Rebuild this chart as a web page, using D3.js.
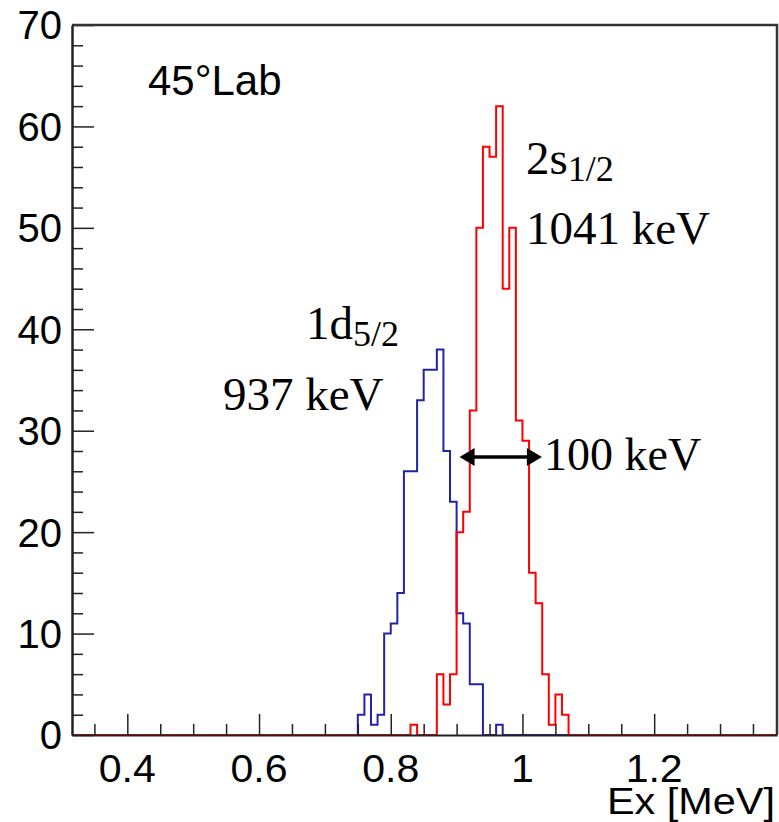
<!DOCTYPE html>
<html>
<head>
<meta charset="utf-8">
<script src="https://cdn.jsdelivr.net/npm/d3@7"></script>
<style>
  body { margin: 0; background: #fff; }
  svg { display: block; }
</style>
</head>
<body>
<div id="chart"></div>
<script>
// histogram data, bins of 0.01 MeV
const binWidth = 0.01;
const blueStart = 0.75;
const blueCounts = [2, 4, 1, 2, 10, 11, 14, 26, 26, 33, 36, 36, 38, 28, 23, 12, 11, 5, 5, 0, 0, 1];
const redStart = 0.83;
const redCounts = [1, 0, 0, 0, 6, 3, 6, 20, 22, 32, 50, 58, 57, 62, 44, 50, 31, 29, 16, 13, 6, 1, 4, 2];

const xTicksMajor = [0.4, 0.6, 0.8, 1.0, 1.2];
const xTickLabels = ['0.4', '0.6', '0.8', '1', '1.2'];
const yTicksMajor = [0, 10, 20, 30, 40, 50, 60, 70];

const width = 779, height = 822;
const margin = { top: 25, right: 2, bottom: 87, left: 72 };

const svg = d3.select('#chart').append('svg')
  .attr('width', width)
  .attr('height', height);

const x = d3.scaleLinear()
  .domain([0.316, 1.3865])
  .range([margin.left, width - margin.right]);

const y = d3.scaleLinear()
  .domain([0, 70])
  .range([height - margin.bottom, margin.top]);

svg.append('defs').append('clipPath').attr('id', 'plot-clip')
  .append('rect')
  .attr('x', margin.left).attr('y', margin.top - 2)
  .attr('width', width - margin.left - margin.right)
  .attr('height', height - margin.top - margin.bottom + 4);

// build step points, running along zero outside the filled bins
function stepPoints(start, counts) {
  const pts = [[x.domain()[0], 0], [start, 0]];
  counts.forEach((c, i) => {
    const lo = start + i * binWidth;
    pts.push([lo, c], [lo + binWidth, c]);
  });
  pts.push([start + counts.length * binWidth, 0], [x.domain()[1], 0]);
  return pts;
}

const line = d3.line()
  .x(d => x(d[0]))
  .y(d => y(d[1]));

const plot = svg.append('g').attr('clip-path', 'url(#plot-clip)');

plot.append('path')
  .attr('d', line(stepPoints(blueStart, blueCounts)))
  .attr('fill', 'none')
  .attr('stroke', '#2323a8')
  .attr('stroke-width', 2);

// axes
const xAxis = d3.axisBottom(x)
  .tickValues(d3.range(0.35, 1.36, 0.05))
  .tickSize(0)
  .tickFormat('');

const gx = svg.append('g')
  .attr('transform', `translate(0,${y(0)})`)
  .call(xAxis);
gx.select('.domain').attr('stroke', '#222').attr('stroke-width', 2);

gx.selectAll('.tick line')
  .attr('y2', d => xTicksMajor.some(m => Math.abs(m - d) < 1e-6) ? -21 : -11)
  .attr('stroke', '#222')
  .attr('stroke-width', 1.5);

svg.append('g')
  .selectAll('text')
  .data(xTicksMajor)
  .join('text')
  .attr('transform', d => `translate(${x(d)},${y(0) + 47}) scale(1.08,1)`)
  .attr('text-anchor', 'middle')
  .attr('font-family', 'Liberation Sans, Arial, sans-serif')
  .attr('font-size', 38)
  .text((d, i) => xTickLabels[i]);

const yAxis = d3.axisLeft(y)
  .tickValues(d3.range(0, 71, 2))
  .tickSize(0)
  .tickFormat('');

const gy = svg.append('g')
  .attr('transform', `translate(${margin.left},0)`)
  .call(yAxis);
gy.select('.domain').attr('stroke', '#222').attr('stroke-width', 2.5);
gy.selectAll('.tick line')
  .attr('x2', d => d % 10 === 0 ? 22 : 11)
  .attr('stroke', '#222')
  .attr('stroke-width', 1.5);

svg.append('g')
  .selectAll('text')
  .data(yTicksMajor)
  .join('text')
  .attr('x', margin.left - 10)
  .attr('y', d => y(d))
  .attr('dy', '0.36em')
  .attr('text-anchor', 'end')
  .attr('font-family', 'Liberation Sans, Arial, sans-serif')
  .attr('font-size', 40)
  .text(d => d);

// frame top and right
svg.append('path')
  .attr('d', `M${x.range()[0]},${y(70)}H${x.range()[1]}V${y(0)}`)
  .attr('fill', 'none')
  .attr('stroke', '#333')
  .attr('stroke-width', 2.5);

plot.append('path')
  .attr('d', line(stepPoints(redStart, redCounts)))
  .attr('fill', 'none')
  .attr('stroke', '#ff0000')
  .attr('stroke-width', 2);

svg.append('text')
  .attr('transform', `translate(${width - 4},${height - 8}) scale(1.12,1)`)
  .attr('text-anchor', 'end')
  .attr('font-family', 'Liberation Sans, Arial, sans-serif')
  .attr('font-size', 37)
  .text('Ex [MeV]');

// annotations
svg.append('text')
  .attr('x', 148)
  .attr('y', 95)
  .attr('font-family', 'Liberation Sans, Arial, sans-serif')
  .attr('font-size', 42)
  .text('45°Lab');

const serif = 'Liberation Serif, Times New Roman, serif';

function levelLabel(xp, yp, main, sub) {
  const t = svg.append('text')
    .attr('x', xp).attr('y', yp)
    .attr('font-family', serif)
    .attr('font-size', 47);
  t.append('tspan').text(main);
  t.append('tspan').attr('font-size', 36).attr('dy', 7).text(sub);
}

levelLabel(526, 174, '2s', '1/2');
levelLabel(306, 339, '1d', '5/2');

svg.append('text')
  .attr('x', 526).attr('y', 244)
  .attr('font-family', serif).attr('font-size', 47)
  .text('1041 keV');

svg.append('text')
  .attr('x', 223).attr('y', 410)
  .attr('font-family', serif).attr('font-size', 47)
  .text('937 keV');

svg.append('text')
  .attr('x', 544).attr('y', 470)
  .attr('font-family', serif).attr('font-size', 46)
  .text('100 keV');

// FWHM arrow
const arrowY = 27.4;
const arrowL = 0.9045, arrowR = 1.0295;
const ax0 = x(arrowL), ax1 = x(arrowR), ay = y(arrowY);
const headLen = 15, headHalf = 9;
svg.append('line')
  .attr('x1', ax0 + headLen - 2).attr('x2', ax1 - headLen + 2)
  .attr('y1', ay).attr('y2', ay)
  .attr('stroke', '#000').attr('stroke-width', 3.5);
svg.append('path')
  .attr('d', `M${ax0},${ay}L${ax0 + headLen},${ay - headHalf}L${ax0 + headLen},${ay + headHalf}Z` +
             `M${ax1},${ay}L${ax1 - headLen},${ay - headHalf}L${ax1 - headLen},${ay + headHalf}Z`)
  .attr('fill', '#000');
</script>
</body>
</html>
